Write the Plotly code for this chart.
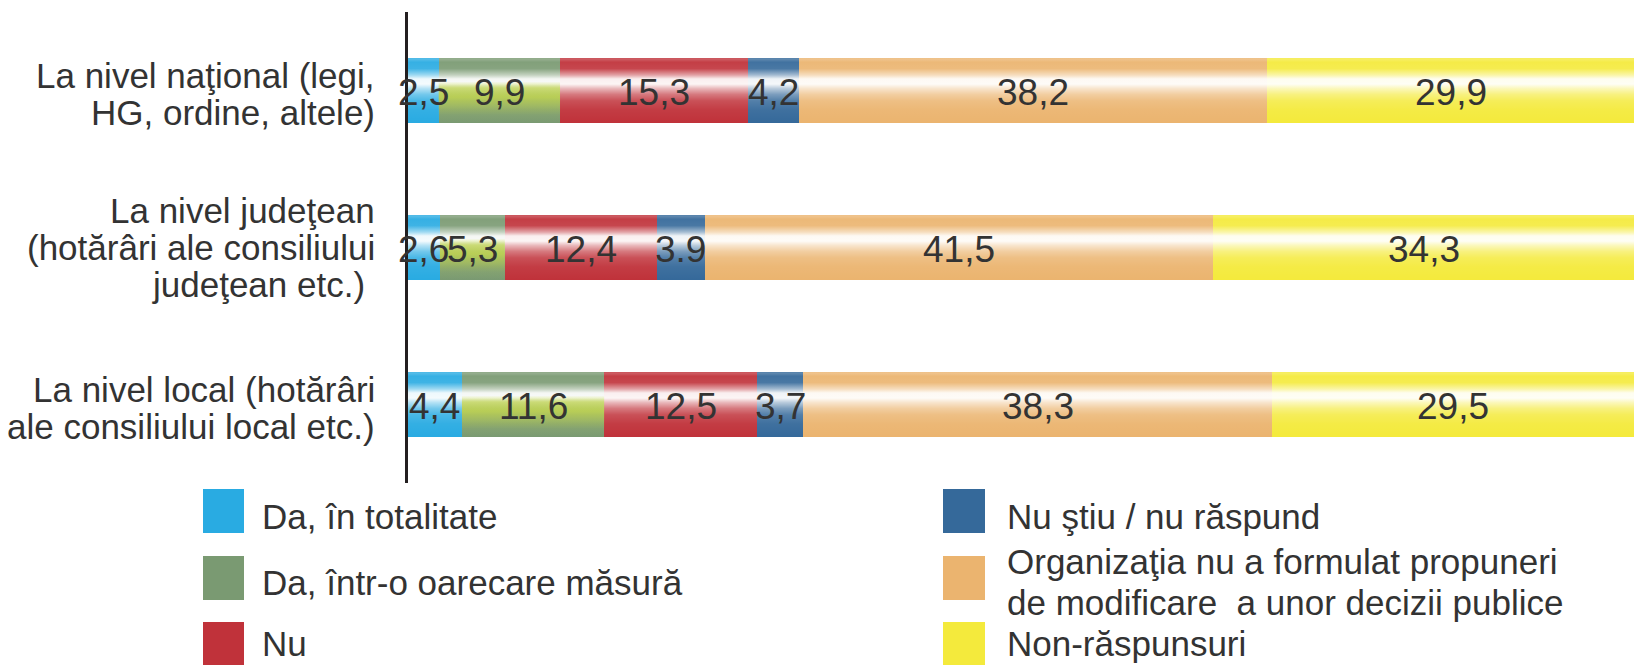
import plotly.graph_objects as go

# ---------------- data ----------------
category_lines = [
    ["La nivel naţional (legi,", "HG, ordine, altele)"],
    ["La nivel judeţean", "(hotărâri ale consiliului", "judeţean etc.)\u00a0"],
    ["La nivel local (hotărâri", "ale consiliului local etc.)"],
]
categories = [" ".join(l).strip() for l in category_lines]

series_names = [
    "Da, în totalitate",
    "Da, într-o oarecare măsură",
    "Nu",
    "Nu ştiu / nu răspund",
    "Organizaţia nu a formulat propuneri de modificare  a unor decizii publice",
    "Non-răspunsuri",
]
legend_lines = [
    ["Da, în totalitate"],
    ["Da, într-o oarecare măsură"],
    ["Nu"],
    ["Nu ştiu / nu răspund"],
    ["Organizaţia nu a formulat propuneri", "de modificare  a unor decizii publice"],
    ["Non-răspunsuri"],
]

da_total = [2.5, 2.6, 4.4]
da_partial = [9.9, 5.3, 11.6]
nu = [15.3, 12.4, 12.5]
nu_stiu = [4.2, 3.9, 3.7]
fara_propuneri = [38.2, 41.5, 38.3]
non_raspunsuri = [29.9, 34.3, 29.5]

da_total_labels = ["2,5", "2,6", "4,4"]
da_partial_labels = ["9,9", "5,3", "11,6"]
nu_labels = ["15,3", "12,4", "12,5"]
nu_stiu_labels = ["4,2", "3.9", "3,7"]
fara_propuneri_labels = ["38,2", "41,5", "38,3"]
non_raspunsuri_labels = ["29,9", "34,3", "29,5"]

series_values = [da_total, da_partial, nu, nu_stiu, fara_propuneri, non_raspunsuri]
series_labels = [da_total_labels, da_partial_labels, nu_labels, nu_stiu_labels,
                 fara_propuneri_labels, non_raspunsuri_labels]
colors = ["#29abe2", "#7a9a72", "#c0323a", "#35699a", "#ebb46f", "#f4ea3c"]

# ---------------- layout constants ----------------
W, H = 1634, 665
PLOT_L, PLOT_R, PLOT_T, PLOT_B = 408, 1634, 12, 483
BAR_W = 0.41
FONT = "Liberation Sans, Arial, sans-serif"
TXT = "#333333"

# white gloss profile (fraction from bar top, alpha)
GLOSS = [(0.0, 0.25), (0.06, 0.06), (0.16, 0.10), (0.26, 0.55), (0.32, 0.92),
         (0.40, 0.95), (0.47, 0.65), (0.56, 0.35), (0.66, 0.15), (0.80, 0.05),
         (1.0, 0.0)]
GREEN_GLOW = [(0.0, 0.0), (0.36, 0.0), (0.46, 0.6), (0.60, 0.7), (0.74, 0.4),
              (0.88, 0.08), (1.0, 0.0)]


def px_x(x):
    return (x - PLOT_L) / (PLOT_R - PLOT_L)


def px_y(y):
    return (PLOT_B - y) / (PLOT_B - PLOT_T)


def scale(stops, rgb):
    return [[f, "rgba(%s,%.3f)" % (rgb, a)] for f, a in stops]


fig = go.Figure()
for name, vals, col in zip(series_names, series_values, colors):
    fig.add_trace(go.Bar(
        x=vals, y=categories, orientation="h", name=name,
        marker=dict(color=col, line=dict(width=0)),
        width=BAR_W, hoverinfo="skip", showlegend=False,
    ))

# gloss overlays on an overlaid linear axis (same geometry as category axis)
for i in range(len(categories)):
    total = sum(v[i] for v in series_values)
    top, bot = i - BAR_W / 2, i + BAR_W / 2
    fig.add_trace(go.Scatter(
        x=[0, total, total, 0, 0], y=[top, top, bot, bot, top], yaxis="y2",
        mode="lines", line=dict(width=0), fill="toself",
        fillgradient=dict(type="vertical", start=top, stop=bot,
                          colorscale=scale(GLOSS, "255,255,255")),
        hoverinfo="skip", showlegend=False))
    g0 = da_total[i]
    g1 = g0 + da_partial[i]
    fig.add_trace(go.Scatter(
        x=[g0, g1, g1, g0, g0], y=[top, top, bot, bot, top], yaxis="y2",
        mode="lines", line=dict(width=0), fill="toself",
        fillgradient=dict(type="vertical", start=top, stop=bot,
                          colorscale=scale(GREEN_GLOW, "196,216,58")),
        hoverinfo="skip", showlegend=False))

shapes = []
annotations = []

# value labels centred in segments
for i, cat in enumerate(categories):
    cum = 0
    for vals, labs in zip(series_values, series_labels):
        annotations.append(dict(x=cum + vals[i] / 2, y=cat, xref="x", yref="y",
                                text=labs[i], showarrow=False, yshift=-2,
                                font=dict(family=FONT, size=37, color=TXT),
                                xanchor="center", yanchor="middle"))
        cum += vals[i]

# category labels
LINE_H = 37
for cat, lines in zip(categories, category_lines):
    n = len(lines)
    adj = -3 if n == 2 else 0
    for j, line in enumerate(lines):
        annotations.append(dict(x=0, y=cat, xref="paper", yref="y", text=line,
                                showarrow=False, xanchor="right", yanchor="middle",
                                xshift=-31, yshift=((n - 1) / 2 - j) * LINE_H + adj,
                                font=dict(family=FONT, size=35, color=TXT)))

# manual legend
box_x = [(203, 244), (943, 985)]
text_x = [260, 1005]
row_top = [489, 556, 622]
row_mid = [516, 582, 643]
BOX_H = 44
for k, (lines, col) in enumerate(zip(legend_lines, colors)):
    c, r = divmod(k, 3)
    shapes.append(dict(type="rect", xref="paper", yref="paper",
                       x0=px_x(box_x[c][0]), x1=px_x(box_x[c][1]),
                       y0=px_y(row_top[r] + BOX_H), y1=px_y(row_top[r]),
                       fillcolor=col, line=dict(width=0), layer="above"))
    n = len(lines)
    for j, line in enumerate(lines):
        ymid = row_mid[r] + (j - (n - 1) / 2) * 41
        annotations.append(dict(x=px_x(text_x[c]), y=px_y(ymid), xref="paper",
                                yref="paper", text=line, showarrow=False,
                                xanchor="left", yanchor="middle",
                                font=dict(family=FONT, size=35, color=TXT)))

yrange = [len(categories) - 0.5, -0.5]
fig.update_layout(
    width=W, height=H, barmode="stack",
    margin=dict(l=PLOT_L, r=W - PLOT_R, t=PLOT_T, b=H - PLOT_B, pad=0),
    paper_bgcolor="white", plot_bgcolor="white",
    xaxis=dict(range=[0, 100], visible=False, fixedrange=True),
    yaxis=dict(range=yrange, showticklabels=False, ticks="",
               showgrid=False, zeroline=False, showline=True,
               linecolor="#231f20", linewidth=2.5, fixedrange=True),
    yaxis2=dict(range=yrange, overlaying="y", visible=False, fixedrange=True),
    shapes=shapes, annotations=annotations, showlegend=False,
    font=dict(family=FONT, color=TXT),
)

fig.write_html("out.html", config={"displayModeBar": False},
               post_script="document.body.style.margin='0';"
                           "document.body.style.overflow='hidden';")
